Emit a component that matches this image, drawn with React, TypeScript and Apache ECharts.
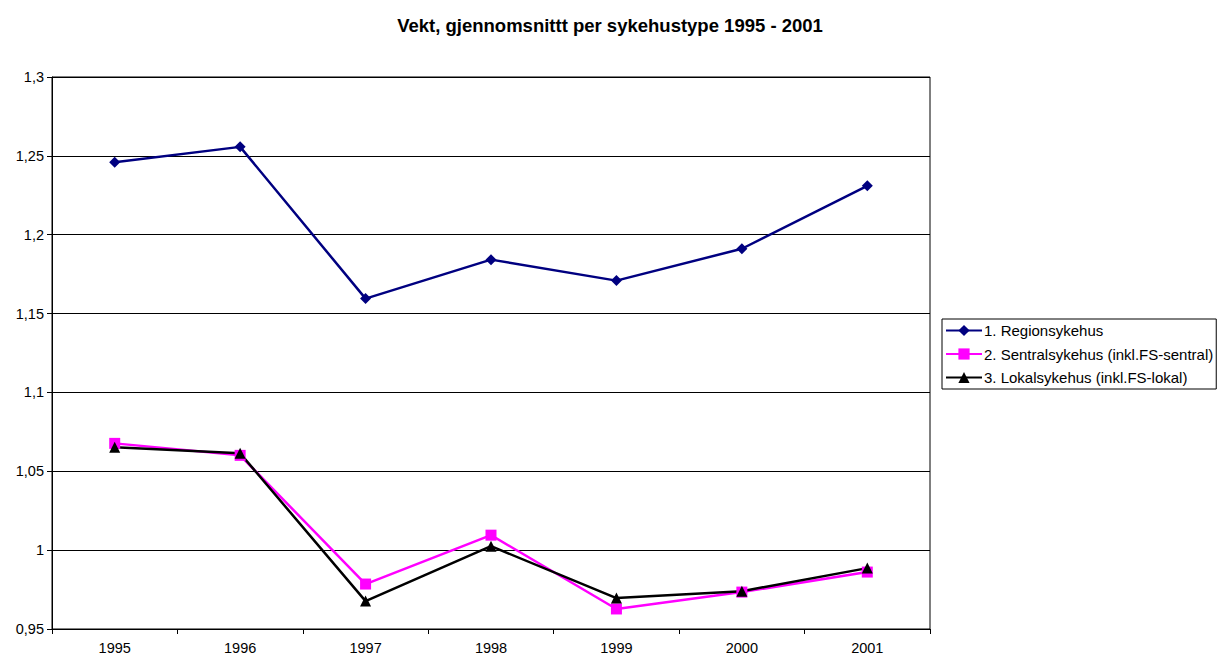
import React, { useEffect, useRef } from "react";
import * as echarts from "echarts";

const years = ["1995", "1996", "1997", "1998", "1999", "2000", "2001"];
const regionsykehus = [1.246, 1.2557, 1.1595, 1.1842, 1.1709, 1.1911, 1.231];
const sentralsykehus = [1.0677, 1.0601, 0.9785, 1.0095, 0.9627, 0.9734, 0.9861];
const lokalsykehus = [1.0652, 1.0614, 0.9677, 1.0025, 0.9696, 0.974, 0.9886];
const seriesNames = [
  "1. Regionsykehus",
  "2. Sentralsykehus (inkl.FS-sentral)",
  "3. Lokalsykehus (inkl.FS-lokal)",
];

export default function App() {
  const ref = useRef<HTMLDivElement>(null);
  useEffect(() => {
    if (!ref.current) return;
    const chart = echarts.init(ref.current, undefined, { renderer: "svg" });
    const font = "Liberation Sans, Arial, sans-serif";
    chart.setOption({
      animation: false,
      backgroundColor: "#fff",
      textStyle: { fontFamily: font },
      title: {
        text: "Vekt, gjennomsnittt per sykehustype 1995 - 2001",
        left: "center",
        top: 11,
        textStyle: { fontFamily: font, fontSize: 18.5, fontWeight: "bold", color: "#000" },
      },
      grid: {
        left: 52,
        top: 77,
        right: 290,
        bottom: 31,
        show: true,
        borderColor: "#000",
        borderWidth: 1,
      },
      legend: {
        orient: "vertical",
        left: 942,
        top: 319,
        borderColor: "#000",
        borderWidth: 1,
        padding: [4, 3, 4, 3],
        itemWidth: 36,
        itemHeight: 14,
        itemGap: 8.5,
        textStyle: { fontFamily: font, fontSize: 15, color: "#000", padding: [0, 0, 0, -3] },
        data: seriesNames,
      },
      xAxis: {
        type: "category",
        data: years,
        boundaryGap: true,
        axisLine: { lineStyle: { color: "#000", width: 1 } },
        axisTick: { show: true, length: 5, lineStyle: { color: "#000" } },
        axisLabel: { color: "#000", fontSize: 14.5, fontFamily: font, margin: 11 },
      },
      yAxis: {
        type: "value",
        min: 0.95,
        max: 1.3,
        interval: 0.05,
        axisLine: { show: true, lineStyle: { color: "#000", width: 1 } },
        axisTick: { show: true, length: 5, lineStyle: { color: "#000" } },
        axisLabel: {
          color: "#000",
          fontSize: 14.5,
          fontFamily: font,
          margin: 8,
          formatter: (v: number) => String(Math.round(v * 100) / 100).replace(".", ","),
        },
        splitLine: { show: true, lineStyle: { color: "#000", width: 1 } },
      },
      series: [
        {
          name: seriesNames[0],
          type: "line",
          data: regionsykehus,
          symbol: "diamond",
          symbolSize: 11,
          itemStyle: { color: "#000080" },
          lineStyle: { color: "#000080", width: 2.5 },
        },
        {
          name: seriesNames[1],
          type: "line",
          data: sentralsykehus,
          symbol: "rect",
          symbolSize: 11,
          itemStyle: { color: "#FF00FF" },
          lineStyle: { color: "#FF00FF", width: 2.5 },
        },
        {
          name: seriesNames[2],
          type: "line",
          data: lokalsykehus,
          symbol: "triangle",
          symbolSize: 11,
          itemStyle: { color: "#000" },
          lineStyle: { color: "#000", width: 2.5 },
        },
      ],
    });
    return () => chart.dispose();
  }, []);
  return (
    <div
      ref={ref}
      style={{ position: "absolute", left: 0, top: 0, width: 1220, height: 660 }}
    />
  );
}
